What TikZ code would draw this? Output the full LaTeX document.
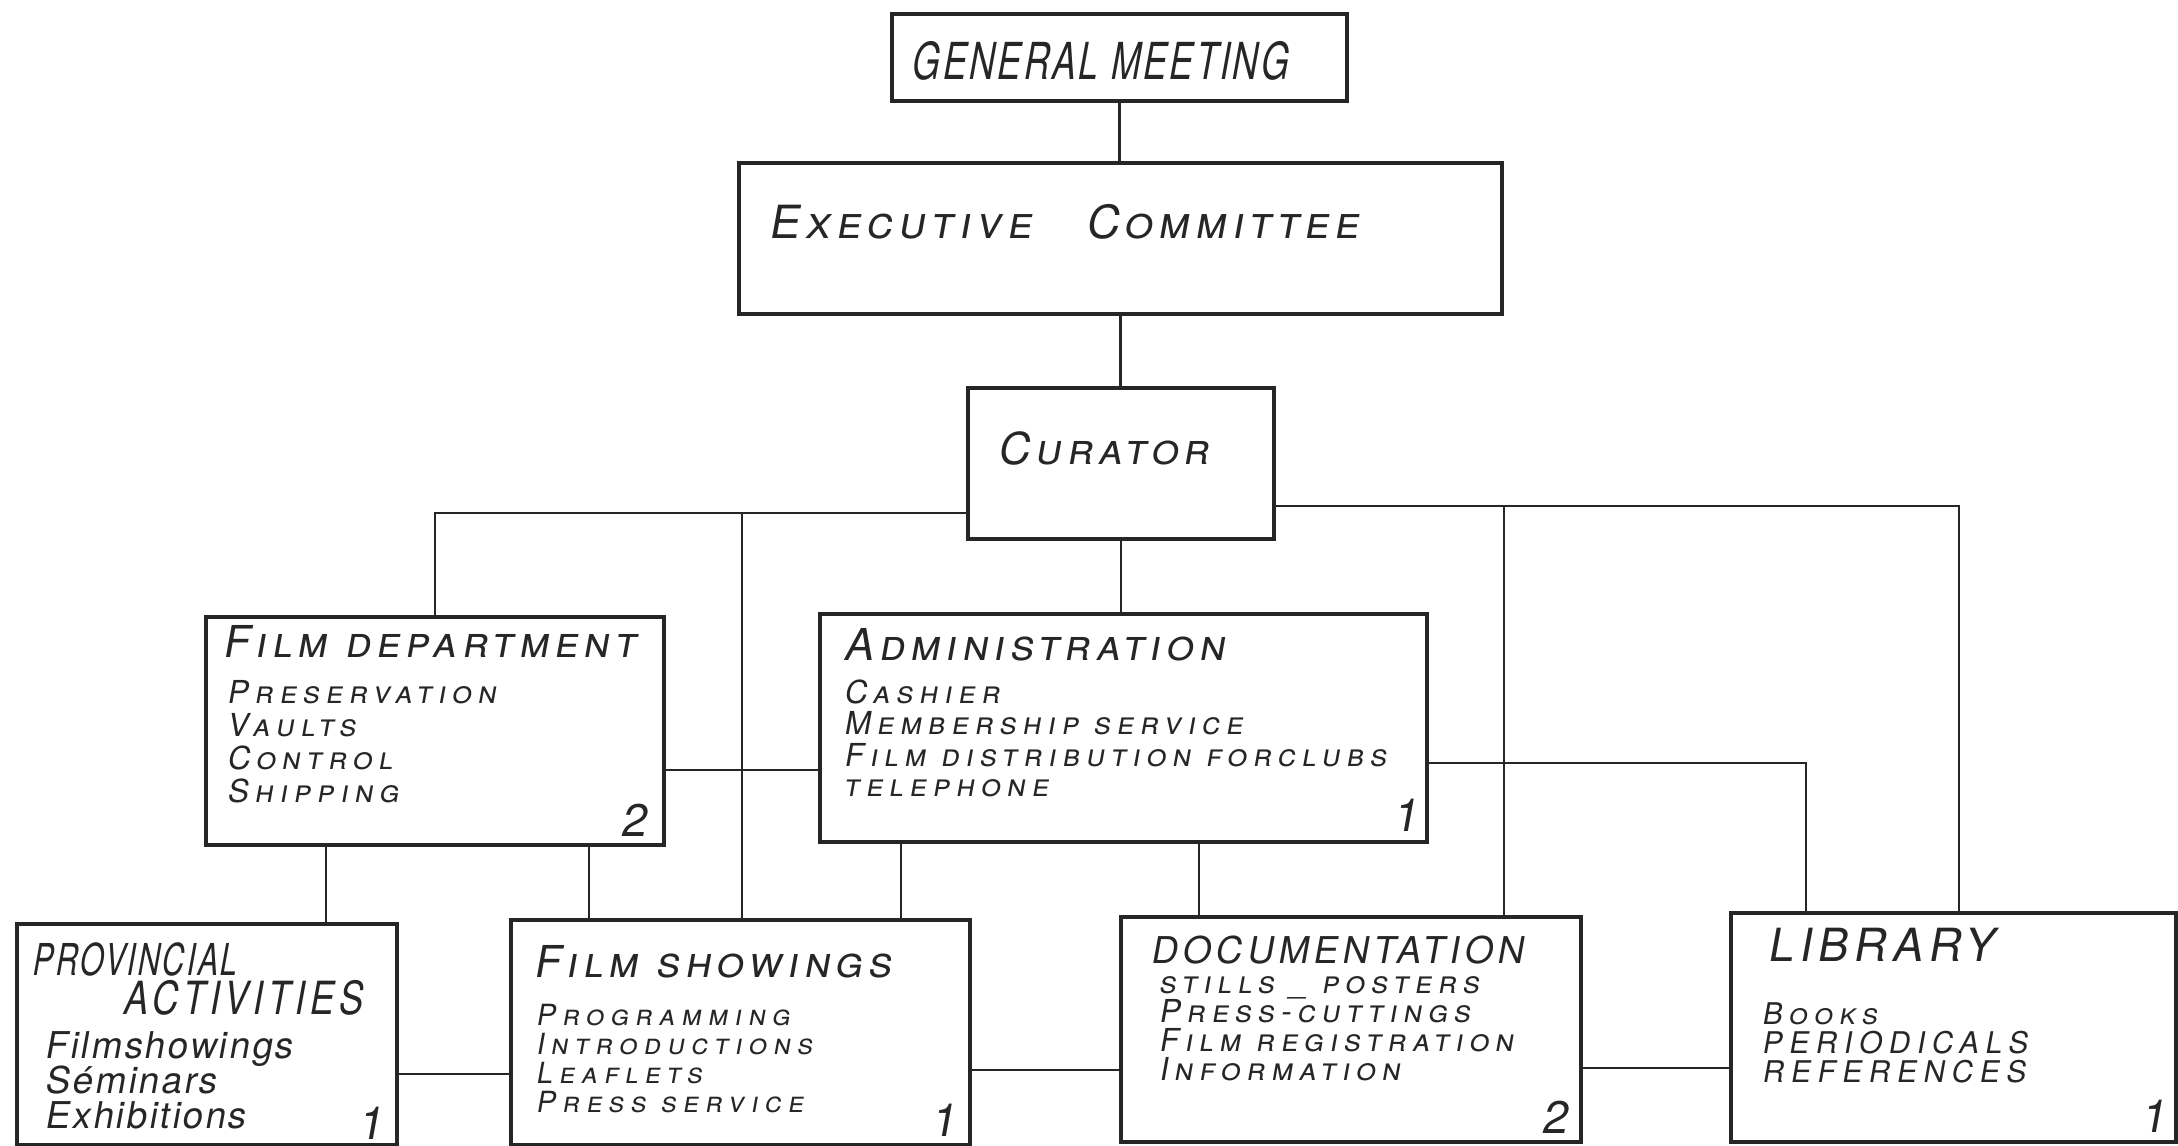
\documentclass[tikz,border=0pt]{standalone}
\usepackage{fontspec}
\setmainfont{TeX Gyre Heros}
\newfontfamily\hand[FakeSlant=0.18,LetterSpace=12]{TeX Gyre Heros}
\newfontfamily\handi[FakeSlant=0.18,LetterSpace=19]{TeX Gyre Heros}
\newfontfamily\handj[FakeSlant=0.18,LetterSpace=22]{TeX Gyre Heros}
\newfontfamily\handc[FakeSlant=0.18,FakeStretch=0.7,LetterSpace=5]{TeX Gyre Heros}
\newfontfamily\handw[FakeSlant=0.18,FakeStretch=0.8,LetterSpace=10]{TeX Gyre Heros}
\newfontfamily\handl[FakeSlant=0.18,LetterSpace=6]{TeX Gyre Heros}
\usetikzlibrary{fit}

\begin{document}
\begin{tikzpicture}[x=0.01cm,y=-0.01cm,
  box/.style={draw=black!85,line width=1.3pt,inner sep=0pt},
  link/.style={draw=black!85,line width=0.6pt},
  txt/.style={anchor=base west,inner sep=0pt,text=black!85},
  title/.style={txt,font=\hand\fontsize{12.5}{14}\selectfont\scshape},
  item/.style={txt,font=\handi\fontsize{9}{11}\selectfont\scshape},
  num/.style={txt,font=\handl\fontsize{13}{15}\selectfont}]
  \useasboundingbox (0,0) rectangle (2178,1146);

  % boxes
  \node[box,fit={(892,14) (1347,101)}] (gm) {};
  \node[box,fit={(739,163) (1502,314)}] (ec) {};
  \node[box,fit={(968,388) (1274,539)}] (cur) {};
  \node[box,fit={(206,617) (664,845)}] (fd) {};
  \node[box,fit={(820,614) (1427,842)}] (adm) {};
  \node[box,fit={(17,924) (397,1145)}] (prov) {};
  \node[box,fit={(511,920) (970,1145)}] (fs) {};
  \node[box,fit={(1121,917) (1581,1142)}] (doc) {};
  \node[box,fit={(1731,913) (2176,1142)}] (lib) {};

  % connectors
  \draw[link] (gm.south) -- (gm.south |- ec.north);
  \draw[link] (ec.south) -- (ec.south |- cur.north);
  \draw[link] (cur.south) -- (cur.south |- adm.north);
  \coordinate (lbus) at (435,513);
  \coordinate (rbus) at (1959,506);
  \draw[link] (cur.west |- lbus) -- (lbus) -- (lbus |- fd.north);
  \draw[link] (fs.north -| 742,0) -- (lbus -| 742,0);
  \draw[link] (cur.east |- rbus) -- (rbus) -- (rbus |- lib.north);
  \draw[link] (doc.north -| 1504,0) -- (rbus -| 1504,0);
  \draw[link] (fd.east |- 0,770) -- (adm.west |- 0,770);
  \coordinate (albend) at (1806,763);
  \draw[link] (adm.east |- albend) -- (albend) -- (albend |- lib.north);
  \draw[link] (fd.south -| 326,0) -- (prov.north -| 326,0);
  \draw[link] (fd.south -| 589,0) -- (fs.north -| 589,0);
  \draw[link] (adm.south -| 901,0) -- (fs.north -| 901,0);
  \draw[link] (adm.south -| 1199,0) -- (doc.north -| 1199,0);
  \draw[link] (prov.east |- 0,1074) -- (fs.west |- 0,1074);
  \draw[link] (fs.east |- 0,1070) -- (doc.west |- 0,1070);
  \draw[link] (doc.east |- 0,1068) -- (lib.west |- 0,1068);

  % texts
  \node[txt,font=\handc\fontsize{14.5}{16}\selectfont] (gm-t) at (910,80) {GENERAL MEETING};
  \node[title,font=\hand\fontsize{13}{15}\selectfont\scshape] (ec-t) at (768,239) {Executive\hspace{0.8em} Committee};
  \node[title] (cur-t) at (997,465) {Curator};

  \node[title] (fd-t) at (222,658) {Film department};
  \foreach \t [count=\i] in {Preservation,Vaults,Control,Shipping}
    \node[item] (fd-\i) at (226,670+33*\i) {\t};
  \node[num] (fd-n) at (620,836) {2};

  \node[title] (adm-t) at (843,661) {Administration};
  \foreach \t [count=\i] in {Cashier,Membership service,Film distribution forclubs,telephone}
    \node[item] (adm-\i) at (843,673+31*\i) {\t};
  \node[num] (adm-n) at (1392,831) {1};

  \node[txt,font=\handc\fontsize{12.5}{14}\selectfont] (prov-t1) at (31,975) {PROVINCIAL};
  \node[txt,font=\handw\fontsize{13}{15}\selectfont] (prov-t2) at (122,1014) {ACTIVITIES};
  \foreach \t [count=\i] in {Filmshowings,Séminars,Exhibitions}
    \node[txt,font=\handl\fontsize{10.5}{13}\selectfont] (prov-\i) at (44,1023+35*\i) {\t};
  \node[num] (prov-n) at (357,1139) {1};

  \node[title] (fs-t) at (533,977) {Film showings};
  \foreach \t [count=\i] in {Programming,Introductions,Leaflets,Press service}
    \node[item,font=\handj\fontsize{8.3}{10}\selectfont\scshape] (fs-\i) at (535,996+29*\i) {\t};
  \node[num] (fs-n) at (930,1136) {1};

  \node[txt,font=\hand\fontsize{10.5}{12}\selectfont] (doc-t) at (1150,963) {DOCUMENTATION};
  \foreach \t [count=\i] in {stills \_ posters,Press-cuttings,Film registration,Information}
    \node[item] (doc-\i) at (1158,964+29*\i) {\t};
  \node[num] (doc-n) at (1541,1133) {2};

  \node[txt,font=\hand\fontsize{13}{15}\selectfont] (lib-t) at (1767,961) {LIBRARY};
  \foreach \t [count=\i] in {Books,PERIODICALS,REFERENCES}
    \node[item,font=\handj\fontsize{8.5}{10}\selectfont\scshape] (lib-\i) at (1761,995+29*\i) {\t};
  \node[num] (lib-n) at (2140,1132) {1};
\end{tikzpicture}
\end{document}
